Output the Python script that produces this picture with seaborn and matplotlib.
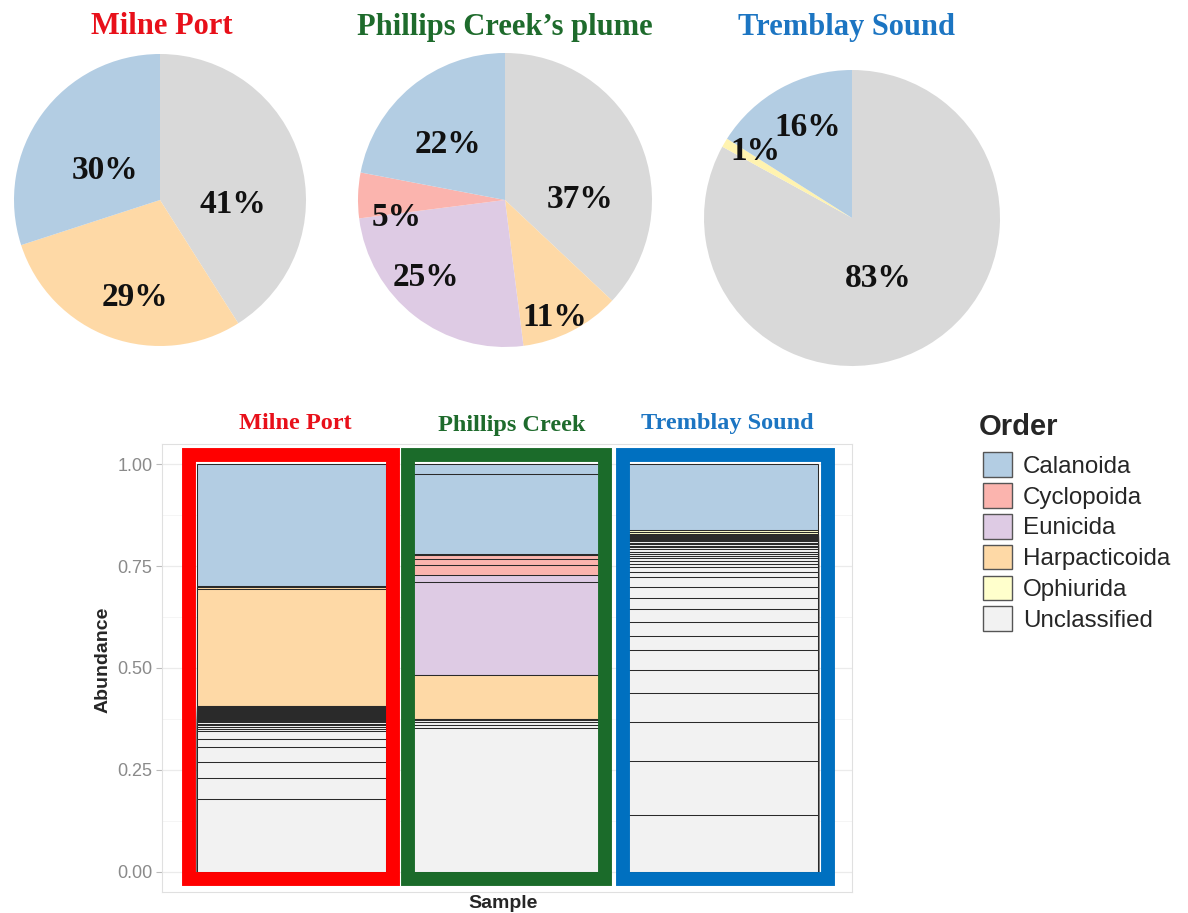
import matplotlib
matplotlib.use("Agg")
import matplotlib.pyplot as plt
import numpy as np
import pandas as pd
import seaborn as sns
from matplotlib.patches import Rectangle, Patch

# ---------------- data ----------------
orders = ["Calanoida", "Cyclopoida", "Eunicida", "Harpacticoida", "Ophiurida", "Unclassified"]
bar_colors = ["#B3CDE3", "#FBB4AE", "#DECBE4", "#FED9A6", "#FFFFCC", "#F2F2F2"]
pie_colors = ["#B3CDE3", "#FBB4AE", "#DECBE4", "#FED9A6", "#FFF3B0", "#D9D9D9"]

# pie charts (clockwise from 12 o'clock)
pie_titles = ["Milne Port", "Phillips Creek\u2019s plume", "Tremblay Sound"]
milne_pie_orders = ["Unclassified", "Harpacticoida", "Calanoida"]
milne_pie_pct = [41, 29, 30]
phillips_pie_orders = ["Unclassified", "Harpacticoida", "Eunicida", "Cyclopoida", "Calanoida"]
phillips_pie_pct = [37, 11, 25, 5, 22]
tremblay_pie_orders = ["Unclassified", "Ophiurida", "Calanoida"]
tremblay_pie_pct = [83, 1, 16]

# stacked bars: relative abundance of each ASV, listed bottom -> top within order
samples = ["Milne Port", "Phillips Creek", "Tremblay Sound"]
milne_unclassified = [0.179, 0.052, 0.039, 0.036, 0.020, 0.018, 0.006, 0.005, 0.004, 0.004,
                      0.003, 0.003, 0.003, 0.003, 0.002, 0.002, 0.001, 0.001,
                      0.0020, 0.0018, 0.0017, 0.0016, 0.0015, 0.0015, 0.0014, 0.0014, 0.0013, 0.0013,
                      0.0012, 0.0012, 0.0011, 0.0011, 0.0010, 0.0010, 0.0009, 0.0009, 0.0008, 0.0008]
milne_harpacticoida = [0.287, 0.004, 0.002, 0.001]
milne_calanoida = [0.299]

phillips_unclassified = [0.352, 0.008, 0.008, 0.004, 0.002]
phillips_harpacticoida = [0.001, 0.107, 0.001]
phillips_eunicida = [0.227, 0.018]
phillips_cyclopoida = [0.024, 0.015, 0.010, 0.004]
phillips_calanoida = [0.196, 0.023]

tremblay_unclassified = [0.140, 0.132, 0.096, 0.070, 0.057, 0.050, 0.034, 0.034, 0.032, 0.027,
                         0.027, 0.025, 0.012, 0.011, 0.008, 0.007, 0.007, 0.006, 0.006, 0.005,
                         0.005, 0.005, 0.004, 0.004, 0.004, 0.003, 0.003,
                         0.002, 0.002, 0.0015, 0.0015, 0.0015, 0.0015, 0.001, 0.001, 0.001, 0.001, 0.001]
tremblay_ophiurida = [0.005, 0.004]
tremblay_calanoida = [0.162]

site_colors = ["#FF0000", "#1B6B2A", "#0070C0"]
title_colors = ["#E8101A", "#1E6B2C", "#1C75C2"]
yticks = [0.0, 0.25, 0.50, 0.75, 1.00]
ytick_labels = ["0.00", "0.25", "0.50", "0.75", "1.00"]

# ---------------- build long table ----------------
bar_data = {
    "Milne Port": {"Unclassified": milne_unclassified, "Harpacticoida": milne_harpacticoida,
                   "Calanoida": milne_calanoida},
    "Phillips Creek": {"Unclassified": phillips_unclassified, "Harpacticoida": phillips_harpacticoida,
                       "Eunicida": phillips_eunicida, "Cyclopoida": phillips_cyclopoida,
                       "Calanoida": phillips_calanoida},
    "Tremblay Sound": {"Unclassified": tremblay_unclassified, "Ophiurida": tremblay_ophiurida,
                       "Calanoida": tremblay_calanoida},
}
rows = []
for s in samples:
    for o in orders[::-1]:  # bottom -> top stacking
        for v in bar_data[s].get(o, []):
            rows.append({"Sample": s, "Order": o, "Abundance": v})
df = pd.DataFrame(rows)
df["Abundance"] = df["Abundance"] / df.groupby("Sample")["Abundance"].transform("sum")
df["top"] = df.groupby("Sample")["Abundance"].cumsum()

color_of = dict(zip(orders, bar_colors))
pie_color_of = dict(zip(orders, pie_colors))

# ---------------- figure ----------------
sns.set_theme(style="white")
plt.rcParams["font.family"] = ["Liberation Sans", "DejaVu Sans"]
W, H = 1188, 913
fig = plt.figure(figsize=(W / 100, H / 100), dpi=100)


def fx(px):
    return px / W


def fy(py):
    return 1 - py / H


# pies: (center x, center y, radius) in px
pie_geom = [(160, 200, 146), (505, 200, 147), (852, 218, 148)]
pie_sets = [(milne_pie_orders, milne_pie_pct), (phillips_pie_orders, phillips_pie_pct),
            (tremblay_pie_orders, tremblay_pie_pct)]
pie_label_xy = [
    [(0.50, -0.03), (-0.17, -0.67), (-0.38, 0.20)],
    [(0.51, 0.0), (0.34, -0.80), (-0.54, -0.53), (-0.74, -0.12), (-0.39, 0.38)],
    [(0.18, -0.41), (-0.65, 0.45), (-0.30, 0.61)],
]
title_x = [162, 505, 846]
serif = ["Liberation Serif", "DejaVu Serif"]
for i, ((cx, cy, r), (po, pp)) in enumerate(zip(pie_geom, pie_sets)):
    pax = fig.add_axes([fx(cx - r), fy(cy + r), fx(2 * r), 2 * r / H])
    pax.pie(pp, colors=[pie_color_of[o] for o in po], startangle=90, counterclock=False,
            wedgeprops=dict(linewidth=0))
    pax.set_xlim(-1, 1)
    pax.set_ylim(-1, 1)
    pax.set_aspect("equal")
    pax.axis("off")
    for (lx, ly), p in zip(pie_label_xy[i], pp):
        pax.text(lx, ly, f"{p}%", ha="center", va="center", fontsize=24,
                 fontweight="bold", family=serif, color="#111111")
    fig.text(fx(title_x[i]), fy(27), pie_titles[i], ha="center", va="center", fontsize=22,
             fontweight="bold", family=serif, color=title_colors[i])

# stacked bar chart
ax = fig.add_axes([fx(162), fy(892), fx(852 - 162), (892 - 444) / H])
for _, row in df.sort_values("top", ascending=False).iterrows():
    sns.barplot(x=[row["Sample"]], y=[row["top"]], order=samples, color=color_of[row["Order"]],
                saturation=1, width=0.88, edgecolor="#2a2a2a", linewidth=0.75,
                errorbar=None, ax=ax, zorder=2)

ax.set_xlim(-0.6, 2.6)
ax.set_ylim(-0.05, 1.05)
ax.set_yticks(yticks)
ax.set_yticklabels(ytick_labels)
ax.set_yticks([0.125, 0.375, 0.625, 0.875], minor=True)
ax.set_xticks([])
ax.set_facecolor("white")
ax.grid(axis="y", which="major", color="#EBEBEB", linewidth=0.9, zorder=0)
ax.grid(axis="y", which="minor", color="#F4F4F4", linewidth=0.6, zorder=0)
ax.set_axisbelow(True)
for sp in ax.spines.values():
    sp.set_visible(True)
    sp.set_color("#E0E0E0")
    sp.set_linewidth(0.8)
ax.tick_params(axis="y", which="major", length=4, width=0.8, color="#BBBBBB",
               labelsize=13, labelcolor="#8A8A8A", left=True, pad=3)
ax.tick_params(axis="y", which="minor", length=0)

narrow = ["Liberation Sans Narrow", "Liberation Sans", "DejaVu Sans"]
ax.set_xlabel("Sample", fontsize=14, fontweight="bold", family=narrow, va="center")
ax.xaxis.set_label_coords((503 - 162) / 690, (892 - 903) / 448)
ax.set_ylabel("Abundance", fontsize=14, fontweight="bold", family=narrow, va="center")
ax.yaxis.set_label_coords((103 - 162) / 690, (892 - 660) / 448)

# coloured site frames
frames = [(-0.473, 0.469), (0.541, 1.455), (1.536, 2.487)]
for (x0, x1), c in zip(frames, site_colors):
    ax.add_patch(Rectangle((x0, -0.017), x1 - x0, 1.039, fill=False, edgecolor=c, linewidth=10,
                           joinstyle="miter", clip_on=False, zorder=10))

bar_title_xy = [(295, 423), (512, 426), (727, 423)]
for (tx, ty), s, c in zip(bar_title_xy, samples, title_colors):
    fig.text(fx(tx), fy(ty), s, ha="center", va="center", fontsize=17.5, fontweight="bold",
             family=serif, color=c)

# legend
handles = [Patch(facecolor=c, edgecolor="#555555", linewidth=1.0) for c in bar_colors]
leg = fig.legend(handles, orders, title="Order", loc="upper left",
                 bbox_to_anchor=(fx(983), fy(413)), frameon=False, fontsize=17.4,
                 title_fontproperties={"size": 21, "weight": "bold"},
                 handlelength=1.2, handleheight=1.2, handletextpad=0.45,
                 labelspacing=0.22, borderpad=0, borderaxespad=0, alignment="left")
leg._legend_box.sep = 8
leg.get_title().set_position((-4, 0))

fig.savefig("out.png", dpi=100)
